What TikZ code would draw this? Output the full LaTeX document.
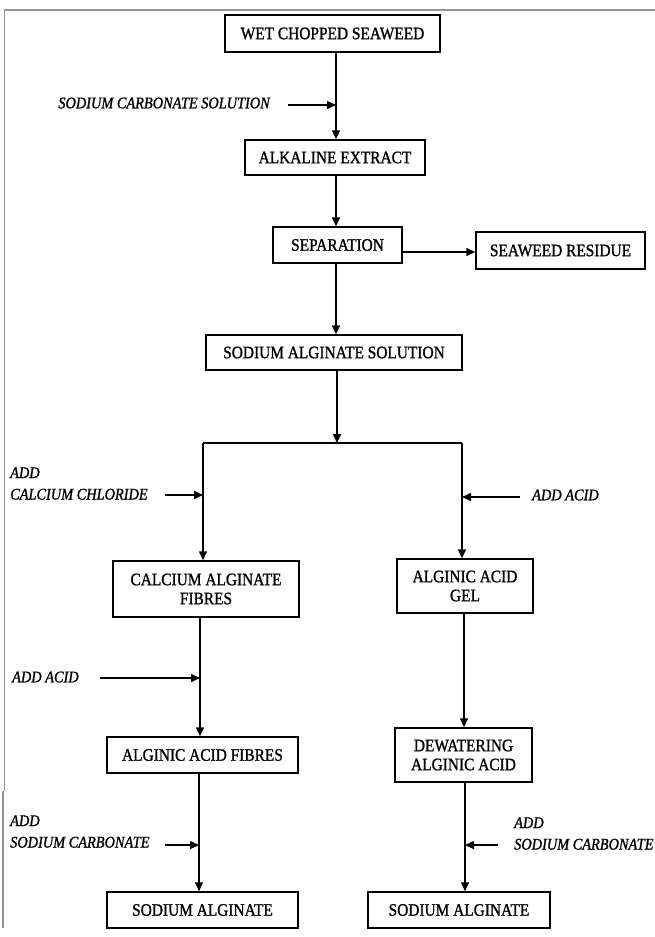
\documentclass[tikz,border=0pt]{standalone}
\usepackage{fontspec}
\setmainfont{Liberation Serif}[FakeStretch=0.88, FakeBold=1.2]
\usetikzlibrary{arrows.meta,calc}
\tikzset{
  box/.style={draw, line width=1.5pt, inner sep=0pt, align=center,
    font=\fontsize{17.5}{19}\selectfont},
  lab/.style={inner sep=0pt, align=left, anchor=west,
    font=\fontsize{16.3}{21.5}\selectfont\itshape},
  conn/.style={line width=1.5pt},
  arr/.style={line width=1.5pt, -{Triangle[length=9pt,width=8pt]}},
  frame/.style={draw=gray!85, line width=1.4pt}
}
\begin{document}
\begin{tikzpicture}[x=1pt,y=-1pt]
\useasboundingbox (0,0) rectangle (655,937);
% frame
\draw[frame] (4,10) -- (655,10);
\draw[frame] (4.5,10) -- (4.5,791);
\draw[frame] (3,791) -- (3,928);
% column coordinates
\coordinate (cA) at (336,0);
\coordinate (cL1) at (203,0);
\coordinate (cL2) at (200,0);
\coordinate (cL3) at (199,0);
\coordinate (cR1) at (462,0);
\coordinate (cR2) at (464,0);
\coordinate (cR3) at (465,0);
% boxes
\node[box, minimum width=215pt, minimum height=37pt] (wet) at (332.5,33.5) {WET CHOPPED SEAWEED};
\node[box, minimum width=180pt, minimum height=35pt] (alk) at (335,157.5) {ALKALINE EXTRACT};
\node[box, minimum width=129pt, minimum height=36pt] (sep) at (337.5,245) {SEPARATION};
\node[box, minimum width=169pt, minimum height=37pt] (res) at (560.5,250.5) {SEAWEED RESIDUE};
\node[box, minimum width=256pt, minimum height=35pt] (sas) at (334,352.5) {SODIUM ALGINATE SOLUTION};
\node[box, minimum width=186pt, minimum height=56pt] (caf) at (206,589) {CALCIUM ALGINATE\\FIBRES};
\node[box, minimum width=136pt, minimum height=54pt] (gel) at (465,586) {ALGINIC ACID\\GEL};
\node[box, minimum width=191pt, minimum height=36pt] (aaf) at (202.5,755) {ALGINIC ACID FIBRES};
\node[box, minimum width=137pt, minimum height=54pt] (dew) at (463.5,755) {DEWATERING\\ALGINIC ACID};
\node[box, minimum width=191pt, minimum height=36pt] (sa1) at (202.5,910) {SODIUM ALGINATE};
\node[box, minimum width=182pt, minimum height=36pt] (sa2) at (459,910) {SODIUM ALGINATE};
% labels
\node[lab, anchor=east] (l1) at (270,103) {SODIUM CARBONATE SOLUTION};
\node[lab] (l2) at (10,483.5) {ADD\\CALCIUM CHLORIDE};
\node[lab] (l3) at (532,495) {ADD ACID};
\node[lab] (l4) at (12,677) {ADD ACID};
\node[lab] (l5) at (10,831.5) {ADD\\SODIUM CARBONATE};
\node[lab] (l6) at (514,833.5) {ADD\\SODIUM CARBONATE};
% junction
\coordinate (J) at (337,443);
\coordinate (JL) at (203,443);
\coordinate (JR) at (462,443);
% input arrow end points
\coordinate (i1) at (288,105);
\coordinate (i2) at (165,495);
\coordinate (i3) at (520,497);
\coordinate (i4) at (100,678);
\coordinate (i5) at (165,845);
\coordinate (i6) at (498,845);
% main flow
\draw[arr] (wet.south -| cA) -- (alk.north -| cA);
\draw[arr] (i1) -- (i1 -| cA);
\draw[arr] (alk.south -| cA) -- (sep.north -| cA);
\draw[arr] (res.west -| sep.east) ++(0,1.5) -- ($(res.west)+(0,1.5)$);
\draw[arr] (sep.south -| cA) -- (sas.north -| cA);
\draw[arr] (sas.south -| J) -- (J);
\draw[conn] (JL) -- (JR);
% left branch
\draw[arr] (JL) -- (caf.north -| JL);
\draw[arr] (i2) -- (i2 -| cL1);
\draw[arr] (caf.south -| cL2) -- (aaf.north -| cL2);
\draw[arr] (i4) -- (i4 -| cL2);
\draw[arr] (aaf.south -| cL3) -- (sa1.north -| cL3);
\draw[arr] (i5) -- (i5 -| cL3);
% right branch
\draw[arr] (JR) -- (gel.north -| JR);
\draw[arr] (i3) -- (i3 -| cR1);
\draw[arr] (gel.south -| cR2) -- (dew.north -| cR2);
\draw[arr] (dew.south -| cR3) -- (sa2.north -| cR3);
\draw[arr] (i6) -- (i6 -| cR3);
\end{tikzpicture}
\end{document}
